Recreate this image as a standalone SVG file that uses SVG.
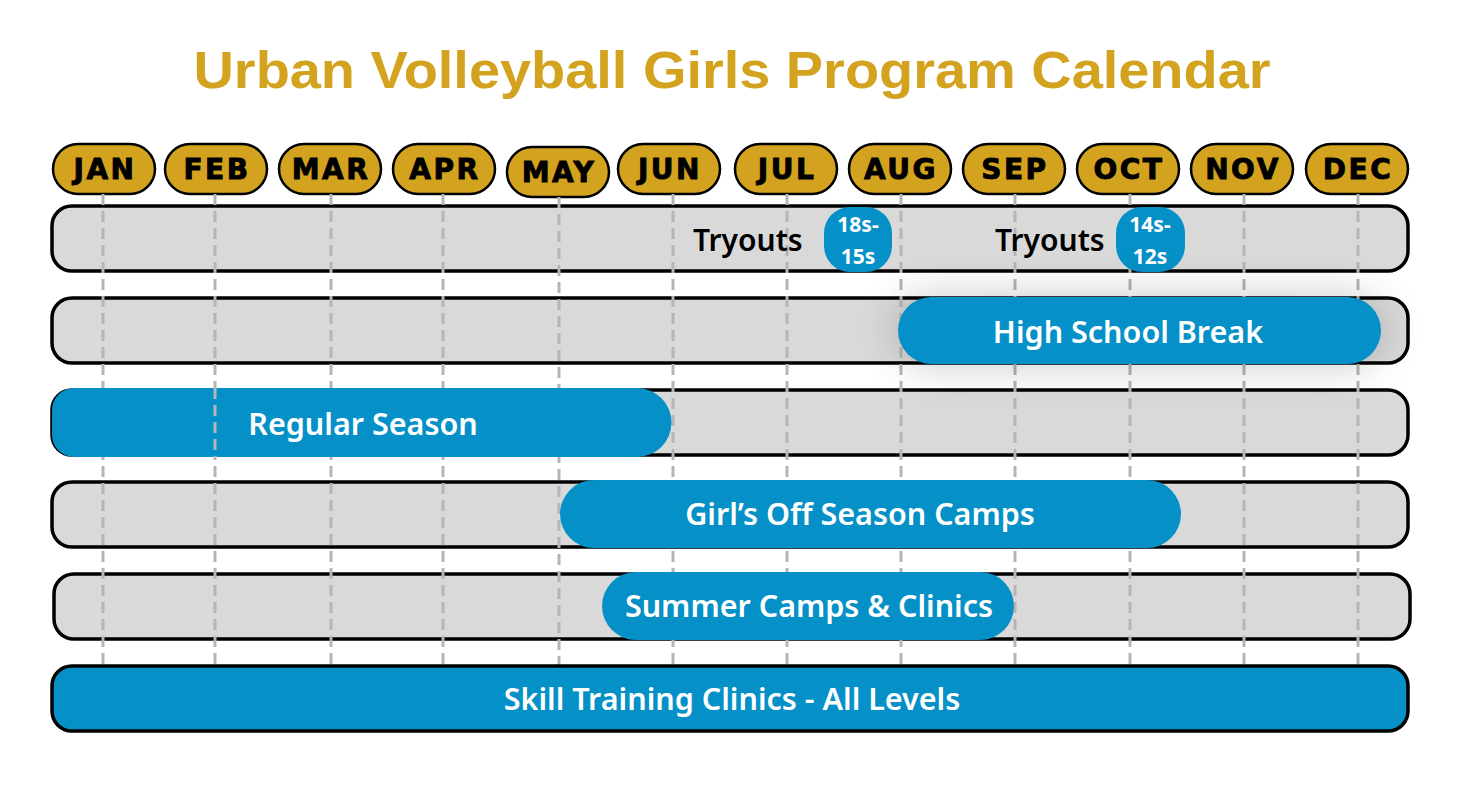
<svg xmlns="http://www.w3.org/2000/svg" width="1479" height="788" viewBox="0 0 1479 788">
<defs>
<style>
.title{font-family:"Liberation Sans",Arial,sans-serif;font-weight:700;font-size:52px;fill:#D3A31F}
.month{fill:#D3A31F;stroke:#000;stroke-width:2.5}
.mtext{font-family:"DejaVu Sans",sans-serif;font-weight:700;font-size:28px;fill:#000;stroke:#000;stroke-width:0.9;letter-spacing:2.5px;text-anchor:middle}
.row{fill:#D9D9D9;stroke:#000;stroke-width:3.5}
.bar{fill:#0591C7}
.btext{font-family:"Noto Sans",sans-serif;font-weight:600;font-size:30.5px;fill:#fff;text-anchor:middle}
.ttext{font-family:"Noto Sans",sans-serif;font-weight:600;font-size:30px;fill:#000}
.badge{font-family:"Noto Sans",sans-serif;font-weight:700;font-size:21px;fill:#fff;text-anchor:middle}
.dash{stroke:#B5B5B5;stroke-width:3;stroke-dasharray:11 6;fill:none}
</style>
<filter id="glow" x="-30%" y="-150%" width="160%" height="400%">
<feGaussianBlur stdDeviation="22"/>
</filter>
</defs>
<rect width="1479" height="788" fill="#fff"/>
<text class="title" x="732" y="88" text-anchor="middle" textLength="1077" lengthAdjust="spacingAndGlyphs">Urban Volleyball Girls Program Calendar</text>

<g id="months">
<g id="m-jan"><rect class="month" x="53" y="144" width="102" height="50" rx="25"/><text class="mtext" x="105" y="179">JAN</text></g>
<g id="m-feb"><rect class="month" x="165" y="144" width="102" height="50" rx="25"/><text class="mtext" x="217" y="179">FEB</text></g>
<g id="m-mar"><rect class="month" x="279" y="144" width="102" height="50" rx="25"/><text class="mtext" x="331" y="179">MAR</text></g>
<g id="m-apr"><rect class="month" x="393" y="144" width="102" height="50" rx="25"/><text class="mtext" x="445" y="179">APR</text></g>
<g id="m-may"><rect class="month" x="507" y="147" width="102" height="50" rx="25"/><text class="mtext" x="559" y="182">MAY</text></g>
<g id="m-jun"><rect class="month" x="618" y="144" width="102" height="50" rx="25"/><text class="mtext" x="670" y="179">JUN</text></g>
<g id="m-jul"><rect class="month" x="735" y="144" width="102" height="50" rx="25"/><text class="mtext" x="787" y="179">JUL</text></g>
<g id="m-aug"><rect class="month" x="849" y="144" width="102" height="50" rx="25"/><text class="mtext" x="901" y="179">AUG</text></g>
<g id="m-sep"><rect class="month" x="963" y="144" width="102" height="50" rx="25"/><text class="mtext" x="1015" y="179">SEP</text></g>
<g id="m-oct"><rect class="month" x="1077" y="144" width="102" height="50" rx="25"/><text class="mtext" x="1129" y="179">OCT</text></g>
<g id="m-nov"><rect class="month" x="1191" y="144" width="102" height="50" rx="25"/><text class="mtext" x="1243" y="179">NOV</text></g>
<g id="m-dec"><rect class="month" x="1306" y="144" width="102" height="50" rx="25"/><text class="mtext" x="1358" y="179">DEC</text></g>
</g>

<g id="rows">
<rect class="row" x="52" y="206" width="1356" height="65" rx="20"/>
<rect class="row" x="52" y="298" width="1356" height="65" rx="20"/>
<rect class="row" x="52" y="390" width="1356" height="65" rx="20"/>
<rect class="row" x="52" y="482" width="1356" height="65" rx="20"/>
<rect class="row" x="54" y="574" width="1356" height="65" rx="20"/>
</g>

<g id="connectors">
<line class="dash" x1="103" y1="194" x2="103" y2="666"/>
<line class="dash" x1="215" y1="194" x2="215" y2="666"/>
<line class="dash" x1="331" y1="194" x2="331" y2="666"/>
<line class="dash" x1="443" y1="194" x2="443" y2="666"/>
<line class="dash" x1="559" y1="197" x2="559" y2="666"/>
<line class="dash" x1="673" y1="194" x2="673" y2="666"/>
<line class="dash" x1="787" y1="194" x2="787" y2="666"/>
<line class="dash" x1="901" y1="194" x2="901" y2="666"/>
<line class="dash" x1="1015" y1="194" x2="1015" y2="666"/>
<line class="dash" x1="1130" y1="194" x2="1130" y2="666"/>
<line class="dash" x1="1244" y1="194" x2="1244" y2="666"/>
<line class="dash" x1="1358" y1="194" x2="1358" y2="666"/>
</g>

<g id="tryouts">
<text class="ttext" x="693" y="251">Tryouts</text>
<rect class="bar" x="824" y="207" width="68" height="65" rx="26"/>
<text class="badge" x="858" y="232">18s-</text>
<text class="badge" x="858" y="264">15s</text>
<text class="ttext" x="995" y="251">Tryouts</text>
<rect class="bar" x="1116" y="207" width="69" height="65" rx="26"/>
<text class="badge" x="1150" y="232">14s-</text>
<text class="badge" x="1150" y="264">12s</text>
</g>

<g id="high-school-break">
<rect x="898" y="297" width="483" height="67" rx="33.5" fill="#000" opacity="0.22" filter="url(#glow)"/>
<rect class="bar" x="898" y="297" width="483" height="67" rx="33.5"/>
<text class="btext" x="1128" y="343">High School Break</text>
</g>

<g id="regular-season">
<path class="bar" d="M74 388 H637 A34.5 34.5 0 0 1 637 457 H74 A22 22 0 0 1 52 435 V410 A22 22 0 0 1 74 388 Z"/>
<line class="dash" x1="215" y1="388" x2="215" y2="457"/>
<text class="btext" x="363" y="435">Regular Season</text>
</g>

<g id="off-season-camps">
<rect class="bar" x="560" y="480" width="621" height="68" rx="34"/>
<text class="btext" x="860" y="525">Girl’s Off Season Camps</text>
</g>

<g id="summer-camps">
<rect class="bar" x="602" y="572" width="412" height="68" rx="34"/>
<text class="btext" x="809" y="617">Summer Camps &amp; Clinics</text>
</g>

<g id="skill-training">
<rect x="52" y="666" width="1356" height="65" rx="20" fill="#0591C7" stroke="#000" stroke-width="3.5"/>
<text class="btext" x="732" y="710">Skill Training Clinics - All Levels</text>
</g>
</svg>
